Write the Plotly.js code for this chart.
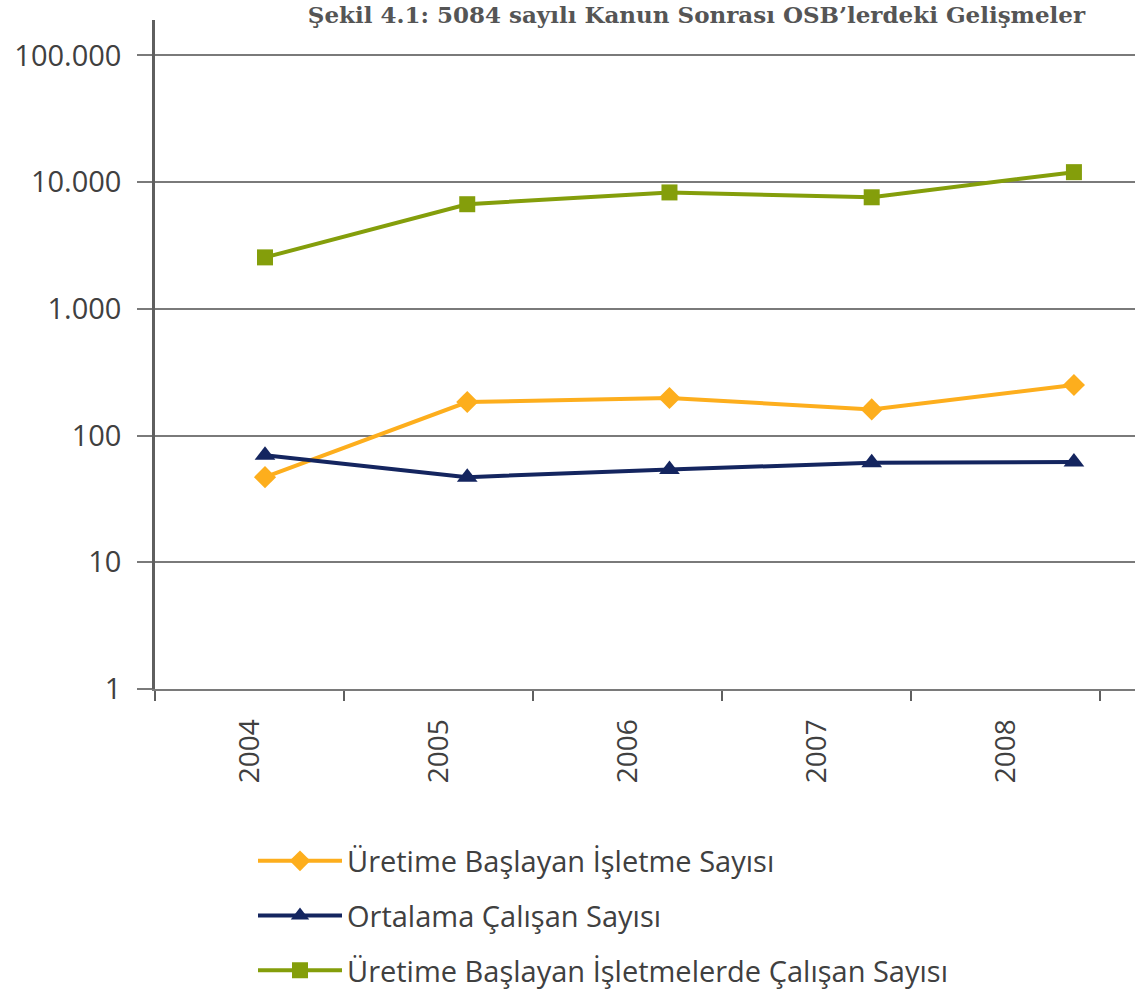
<!DOCTYPE html>
<html>
<head>
<meta charset="utf-8">
<script src="https://cdn.plot.ly/plotly-3.0.1.min.js"></script>
<style>
  html, body { margin: 0; padding: 0; background: #ffffff; }
  #chart { width: 1135px; height: 991px; }
</style>
</head>
<body>
<div id="chart"></div>
<script>
// data
const years = [2004, 2005, 2006, 2007, 2008];
const isletmeSayisi = [47, 184, 198, 161, 251];
const ortalamaCalisan = [70, 47, 54, 61, 62];
const calisanSayisi = [2550, 6700, 8300, 7600, 12000];

const yTickVals = [1, 10, 100, 1000, 10000, 100000];
const yTickText = ['1', '10', '100', '1.000', '10.000', '100.000'];

const seriesNames = [
    'Üretime Başlayan İşletme Sayısı',
    'Ortalama Çalışan Sayısı',
    'Üretime Başlayan İşletmelerde Çalışan Sayısı'
];

const colors = {
    orange: '#fdae1d',
    navy: '#14255f',
    green: '#849e0b',
    text: '#404040',
    grid: '#7a7a7a',
    axis: '#5f5f5f'
};

function makeTrace(values, name, color, symbol, size, group) {
    return {
        x: years,
        y: values,
        type: 'scatter',
        mode: 'lines+markers',
        name: name,
        legendgroup: group,
        line: { color: color, width: 4 },
        marker: { color: color, symbol: symbol, size: size },
        hoverinfo: 'x+y+name'
    };
}

const data = [
    makeTrace(isletmeSayisi, seriesNames[0], colors.orange, 'diamond', 17, 'a'),
    makeTrace(ortalamaCalisan, seriesNames[1], colors.navy, 'triangle-up', 18, 'b'),
    makeTrace(calisanSayisi, seriesNames[2], colors.green, 'square', 16, 'c'),
    // empty trace so the label axis is drawn
    { x: [], y: [], xaxis: 'x2', yaxis: 'y', type: 'scatter', showlegend: false, hoverinfo: 'skip' }
];

const layout = {
    width: 1135,
    height: 991,
    paper_bgcolor: '#ffffff',
    plot_bgcolor: '#ffffff',
    font: { family: '"Open Sans", Lato, sans-serif', color: colors.text },
    margin: { l: 155, r: 0, t: 20, b: 302, autoexpand: false },
    title: {
        text: 'Şekil 4.1: 5084 sayılı Kanun Sonrası OSB\u2019lerdeki Gelişmeler',
        font: { family: '"DejaVu Serif", "Liberation Serif", serif', size: 23, color: '#555555', weight: 'bold' },
        xref: 'container',
        yref: 'container',
        x: 0.956,
        xanchor: 'right',
        y: 0.993,
        yanchor: 'top'
    },
    xaxis: {
        type: 'linear',
        range: [2003.456, 2008.302],
        visible: false,
        fixedrange: true
    },
    xaxis2: {
        type: 'linear',
        overlaying: 'x',
        anchor: 'y',
        side: 'bottom',
        range: [0, 5.185],
        tickmode: 'array',
        tickvals: years.map((_, i) => i + 0.5),
        ticktext: years.map(String),
        tickangle: -90,
        ticks: '',
        ticklabelstandoff: 17,
        tickfont: { size: 28, color: colors.text },
        showgrid: false,
        zeroline: false,
        showline: true,
        linecolor: colors.grid,
        linewidth: 2,
        minor: {
            tickmode: 'linear',
            tick0: 0,
            dtick: 1,
            ticks: 'outside',
            ticklen: 10,
            tickwidth: 2,
            tickcolor: colors.axis,
            showgrid: false
        }
    },
    yaxis: {
        type: 'log',
        range: [0, 5.28],
        tickmode: 'array',
        tickvals: yTickVals,
        ticktext: yTickText,
        tickfont: { size: 29, color: colors.text },
        ticks: 'outside',
        ticklen: 15,
        tickwidth: 1.5,
        tickcolor: colors.grid,
        ticklabelstandoff: 10,
        showgrid: true,
        gridcolor: colors.grid,
        gridwidth: 1.5,
        zeroline: false,
        showline: true,
        linecolor: colors.axis,
        linewidth: 2.5
    },
    showlegend: true,
    legend: {
        x: 0.1,
        xanchor: 'left',
        y: -0.219,
        yanchor: 'top',
        traceorder: 'grouped',
        tracegroupgap: 14,
        font: { size: 29, color: colors.text },
        itemwidth: 84,
        bgcolor: 'rgba(0,0,0,0)'
    },
    hovermode: 'closest'
};

const config = {
    displayModeBar: false,
    responsive: false
};

Plotly.newPlot('chart', data, layout, config);
</script>
</body>
</html>
